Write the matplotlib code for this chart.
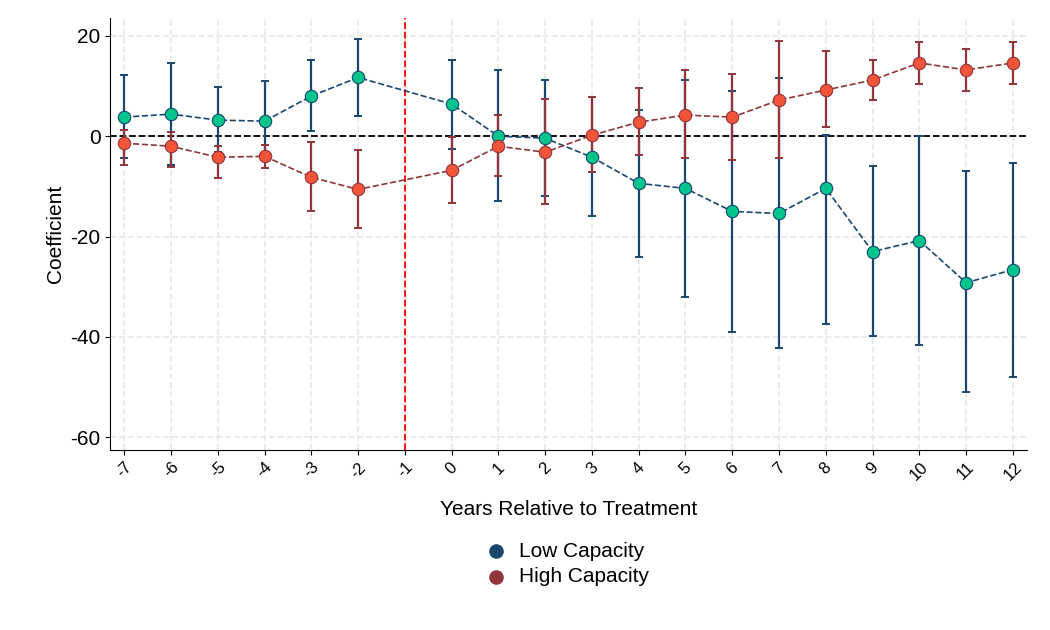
import matplotlib
matplotlib.use("Agg")
import matplotlib.pyplot as plt
import numpy as np

plt.rcParams['font.family'] = ['Liberation Sans', 'DejaVu Sans']
plt.rcParams['axes.unicode_minus'] = False

years = [-7, -6, -5, -4, -3, -2, 0, 1, 2, 3, 4, 5, 6, 7, 8, 9, 10, 11, 12]

low = [3.8, 4.4, 3.2, 3.0, 8.0, 11.7, 6.4, 0.0, -0.4, -4.2, -9.4, -10.4, -15.0, -15.4, -10.4, -23.0, -20.8, -29.2, -26.6]
low_hi = [12.2, 14.5, 9.8, 11.0, 15.2, 19.3, 15.2, 13.2, 11.2, 7.8, 5.2, 11.2, 9.0, 11.6, 0.2, -6.0, 0.0, -7.0, -5.4]
low_lo = [-4.4, -5.8, -3.2, -4.2, 1.0, 4.0, -2.6, -13.0, -12.0, -16.0, -24.0, -32.0, -39.0, -42.2, -37.5, -39.8, -41.6, -51.0, -48.0]

high = [-1.4, -2.0, -4.2, -4.0, -8.2, -10.6, -6.8, -2.0, -3.2, 0.2, 2.8, 4.2, 3.8, 7.2, 9.2, 11.2, 14.6, 13.2, 14.6]
high_hi = [1.2, 0.8, -2.0, -1.8, -1.2, -2.8, -0.2, 4.2, 7.4, 7.8, 9.6, 13.2, 12.4, 19.0, 17.0, 15.2, 18.8, 17.4, 18.8]
high_lo = [-5.8, -6.2, -8.4, -6.4, -15.0, -18.2, -13.4, -8.0, -13.6, -7.2, -3.8, -4.4, -4.8, -4.4, 1.8, 7.2, 10.4, 9.0, 10.4]

xticks = list(range(-7, 13))

navy = "#1a476f"
maroon = "#90353b"

fig = plt.figure(figsize=(10.5, 6.3), dpi=100)
ax = fig.add_axes([0.105, 0.286, 0.873, 0.685])

x = np.array(years)
for vals, hi, lo, lc, fc in [(low, low_hi, low_lo, navy, "#00c48c"),
                             (high, high_hi, high_lo, maroon, "#f0553a")]:
    vals = np.array(vals)
    err = [vals - np.array(lo), np.array(hi) - vals]
    ax.errorbar(x, vals, yerr=err, fmt="none", ecolor=lc, elinewidth=1.6, capsize=3, capthick=1.4, zorder=2)
    ax.plot(x, vals, "--", color=lc, lw=1.2, zorder=3)
    ax.scatter(x, vals, s=80, color=fc, edgecolor=lc, linewidth=0.8, zorder=4)

ax.axhline(0, color="black", ls="--", lw=1.3, zorder=1)
ax.axvline(-1, color="red", ls="--", lw=1.3, zorder=1)

ax.set_xlim(-7.3, 12.3)
ax.set_ylim(-62.5, 23.5)
ax.set_xticks(xticks)
ax.set_xticklabels([str(t) for t in xticks], rotation=45, fontsize=12)
ax.set_yticks([20, 0, -20, -40, -60])
ax.tick_params(axis="y", labelsize=15)
ax.grid(True, color="#e8e8e8", ls="--", lw=1.2)
ax.set_axisbelow(True)
for s in ["top", "right"]:
    ax.spines[s].set_visible(False)
ax.set_xlabel("Years Relative to Treatment", fontsize=15, labelpad=12)
ax.set_ylabel("Coefficient", fontsize=15)

h1 = ax.scatter([], [], s=90, color=navy)
h2 = ax.scatter([], [], s=90, color=maroon)
fig.legend([h1, h2], ["Low Capacity", "High Capacity"], loc="center",
           bbox_to_anchor=(0.535, 0.105), frameon=False, fontsize=15,
           handletextpad=0.1, labelspacing=0.3)

fig.savefig("out.png")
